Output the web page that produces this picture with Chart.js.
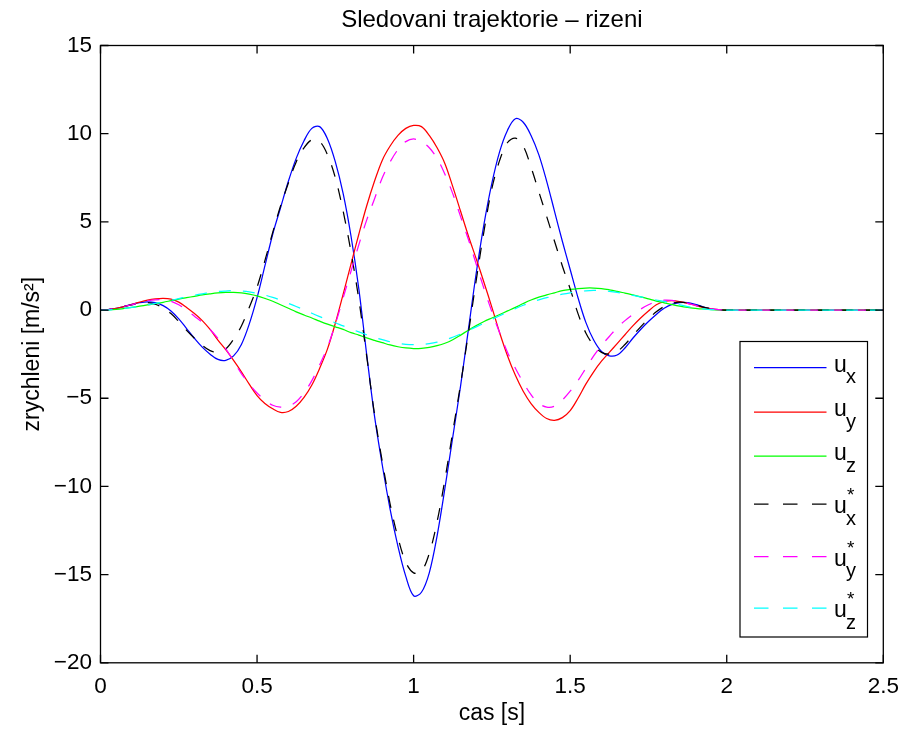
<!DOCTYPE html>
<html>
<head>
<meta charset="utf-8">
<script src="https://cdn.jsdelivr.net/npm/chart.js@4.4.1/dist/chart.umd.min.js"></script>
<style>
  html, body { margin: 0; padding: 0; background: #fff; }
  #c { display: block; }
</style>
</head>
<body>
<canvas id="c" width="904" height="731"></canvas>
<script>
// ---- data ----
const times = [0, 0.025, 0.05, 0.075, 0.1, 0.125, 0.15, 0.175, 0.2, 0.225,
  0.25, 0.275, 0.3, 0.325, 0.35, 0.375, 0.4, 0.425, 0.45, 0.475,
  0.5, 0.525, 0.55, 0.575, 0.6, 0.625, 0.65, 0.675, 0.7, 0.725,
  0.75, 0.775, 0.8, 0.825, 0.85, 0.875, 0.9, 0.925, 0.95, 0.975,
  1.0, 1.025, 1.05, 1.075, 1.1, 1.125, 1.15, 1.175, 1.2, 1.225,
  1.25, 1.275, 1.3, 1.325, 1.35, 1.375, 1.4, 1.425, 1.45, 1.475,
  1.5, 1.525, 1.55, 1.575, 1.6, 1.625, 1.65, 1.675, 1.7, 1.725,
  1.75, 1.775, 1.8, 1.825, 1.85, 1.875, 1.9, 1.925, 1.95, 1.975,
  2.0, 2.5];

const ux = [0, 0.03, 0.1, 0.2, 0.32, 0.42, 0.47, 0.42, 0.25, -0.05,
  -0.5, -1.05, -1.6, -2.1, -2.5, -2.8, -2.85, -2.6, -1.95, -0.8,
  0.7, 2.5, 4.3, 5.8, 7.3, 8.6, 9.6, 10.3, 10.4, 9.7,
  8.4, 6.6, 4.2, 1.2, -2.5, -6.0, -8.8, -11.3, -13.4, -15.1,
  -16.2, -16.0, -14.9, -12.8, -10.1, -7.2, -4.3, -1.1, 2.1, 4.9,
  7.2, 9.0, 10.2, 10.85, 10.65, 9.9, 8.8, 7.3, 5.6, 3.9,
  2.3, 0.7, -0.7, -1.7, -2.35, -2.6, -2.55, -2.15, -1.6, -1.1,
  -0.65, -0.25, 0.1, 0.32, 0.42, 0.42, 0.32, 0.18, 0.07, 0.02,
  0, 0];

const uy = [0, 0.03, 0.1, 0.2, 0.32, 0.45, 0.56, 0.63, 0.66, 0.62,
  0.45, 0.15, -0.2, -0.6, -1.1, -1.7, -2.25, -2.85, -3.5, -4.2,
  -4.85, -5.3, -5.6, -5.8, -5.75, -5.45, -4.95, -4.25, -3.3, -2.2,
  -0.75, 0.9, 2.6, 4.3, 5.9, 7.3, 8.5, 9.3, 9.9, 10.3,
  10.47, 10.4, 9.9, 9.2, 8.3, 7.0, 5.6, 4.2, 2.9, 1.55,
  0.15, -1.3, -2.6, -3.7, -4.6, -5.3, -5.8, -6.15, -6.25, -6.1,
  -5.7, -5.0, -4.2, -3.5, -2.9, -2.4, -1.9, -1.4, -0.9, -0.45,
  -0.05, 0.3, 0.48, 0.53, 0.48, 0.38, 0.26, 0.15, 0.07, 0.02,
  0, 0];

const uz = [0, 0.01, 0.04, 0.09, 0.15, 0.22, 0.29, 0.36, 0.44, 0.53,
  0.62, 0.7, 0.78, 0.86, 0.92, 0.97, 1.0, 1.0, 0.97, 0.9,
  0.8, 0.66, 0.5, 0.3, 0.1, -0.1, -0.28, -0.45, -0.63, -0.8,
  -0.95, -1.1, -1.28, -1.42, -1.58, -1.72, -1.85, -1.98, -2.08, -2.15,
  -2.18, -2.17, -2.12, -2.02, -1.88, -1.68, -1.42, -1.14, -0.88, -0.65,
  -0.45, -0.25, -0.05, 0.15, 0.37, 0.57, 0.73, 0.86, 0.98, 1.1,
  1.17, 1.22, 1.25, 1.25, 1.22, 1.15, 1.06, 0.96, 0.86, 0.75,
  0.63, 0.51, 0.41, 0.31, 0.22, 0.15, 0.1, 0.06, 0.03, 0.01,
  0, 0];

const uxRef = [0, 0.03, 0.1, 0.2, 0.3, 0.4, 0.42, 0.33, 0.12, -0.2,
  -0.65, -1.15, -1.6, -2.0, -2.3, -2.4, -2.2, -1.65, -0.9, 0.15,
  1.3, 2.8, 4.4, 5.9, 7.2, 8.4, 9.2, 9.65, 9.55, 8.8,
  7.5, 5.6, 3.3, 0.6, -2.6, -5.9, -8.6, -11.0, -12.9, -14.3,
  -14.9, -14.8, -13.8, -12.0, -9.6, -6.9, -4.2, -1.3, 1.7, 4.5,
  6.9, 8.5, 9.5, 9.75, 9.3, 8.1, 6.7, 5.3, 3.9, 2.5,
  1.2, -0.2, -1.3, -2.0, -2.4, -2.5, -2.35, -1.95, -1.45, -0.95,
  -0.5, -0.1, 0.2, 0.38, 0.45, 0.4, 0.3, 0.17, 0.07, 0.02,
  0, 0];

const uyRef = [0, 0.03, 0.1, 0.2, 0.3, 0.42, 0.52, 0.58, 0.58, 0.5,
  0.3, 0.0, -0.35, -0.7, -1.1, -1.6, -2.2, -2.9, -3.6, -4.2,
  -4.7, -5.1, -5.4, -5.5, -5.45, -5.2, -4.7, -4.0, -3.1, -2.1,
  -0.8, 0.7, 2.2, 3.7, 5.1, 6.3, 7.5, 8.4, 9.1, 9.55,
  9.7, 9.55, 9.2, 8.6, 7.7, 6.6, 5.3, 4.0, 2.6, 1.2,
  -0.1, -1.3, -2.4, -3.3, -4.1, -4.8, -5.3, -5.5, -5.45, -5.1,
  -4.6, -4.0, -3.3, -2.6, -2.0, -1.5, -1.0, -0.6, -0.25, 0.05,
  0.3, 0.48, 0.56, 0.55, 0.48, 0.38, 0.26, 0.15, 0.07, 0.02,
  0, 0];

const uzRef = [0, 0.01, 0.04, 0.09, 0.15, 0.22, 0.3, 0.38, 0.46, 0.55,
  0.65, 0.75, 0.84, 0.92, 0.99, 1.05, 1.08, 1.1, 1.08, 1.03,
  0.95, 0.85, 0.72, 0.56, 0.38, 0.2, 0.02, -0.18, -0.37, -0.55,
  -0.72, -0.9, -1.07, -1.24, -1.4, -1.55, -1.68, -1.8, -1.88, -1.94,
  -1.96, -1.95, -1.9, -1.82, -1.7, -1.54, -1.36, -1.16, -0.95, -0.74,
  -0.53, -0.32, -0.12, 0.08, 0.27, 0.44, 0.58, 0.7, 0.8, 0.9,
  0.98, 1.04, 1.09, 1.11, 1.1, 1.06, 1.0, 0.92, 0.83, 0.75,
  0.66, 0.57, 0.49, 0.39, 0.29, 0.2, 0.12, 0.07, 0.03, 0.01,
  0, 0];

const xTicks = [0, 0.5, 1, 1.5, 2, 2.5];
const yTicks = [-20, -15, -10, -5, 0, 5, 10, 15];

const seriesNames = ['u_x', 'u_y', 'u_z', 'u_x*', 'u_y*', 'u_z*'];
const legendSub = ['x', 'y', 'z', 'x', 'y', 'z'];
const legendStar = [false, false, false, true, true, true];
const seriesValues = [ux, uy, uz, uxRef, uyRef, uzRef];
const seriesColors = ['#0000ff', '#ff0000', '#00ff00', '#000000', '#ff00ff', '#00ffff'];
const seriesDashed = [false, false, false, true, true, true];

const titleText = 'Sledovani trajektorie \u2013 rizeni';
const xTitle = 'cas [s]';
const yTitle = 'zrychleni [m/s\u00B2]';

// ---- chart ----
const FONT = "'Liberation Sans', Arial, Helvetica, sans-serif";

const datasets = seriesValues.map((vals, i) => ({
  label: seriesNames[i],
  data: times.map((t, k) => ({ x: t, y: vals[k] })),
  borderColor: seriesColors[i],
  backgroundColor: seriesColors[i],
  borderWidth: 1.25,
  borderDash: seriesDashed[i] ? [12, 12] : [],
  pointRadius: 0,
  fill: false,
  tension: 0.35,
  order: 5 - i
}));

const matlabPlugin = {
  id: 'matlabBox',
  afterDatasetsDraw(chart) {
    const { ctx, chartArea: a, scales } = chart;
    const x = scales.x, y = scales.y;
    ctx.save();
    ctx.strokeStyle = '#000';
    ctx.lineWidth = 1.3;
    ctx.setLineDash([]);
    ctx.strokeRect(a.left, a.top, a.right - a.left, a.bottom - a.top);
    ctx.beginPath();
    const TL = 8;
    x.ticks.forEach(t => {
      const px = x.getPixelForValue(t.value);
      ctx.moveTo(px, a.bottom); ctx.lineTo(px, a.bottom - TL);
      ctx.moveTo(px, a.top); ctx.lineTo(px, a.top + TL);
    });
    y.ticks.forEach(t => {
      const py = y.getPixelForValue(t.value);
      ctx.moveTo(a.left, py); ctx.lineTo(a.left + TL, py);
      ctx.moveTo(a.right, py); ctx.lineTo(a.right - TL, py);
    });
    ctx.stroke();

    // legend box (MATLAB style, inside the axes)
    const L = { left: 740, top: 341.5, right: 867.5, bottom: 637 };
    const rowY = [367.7, 412, 456, 504, 556.7, 608];
    ctx.fillStyle = '#fff';
    ctx.fillRect(L.left, L.top, L.right - L.left, L.bottom - L.top);
    ctx.lineWidth = 1.2;
    ctx.strokeRect(L.left, L.top, L.right - L.left, L.bottom - L.top);
    for (let i = 0; i < seriesNames.length; i++) {
      const ly = rowY[i];
      ctx.beginPath();
      ctx.strokeStyle = seriesColors[i];
      ctx.lineWidth = 1.25;
      ctx.setLineDash(seriesDashed[i] ? [14.5, 14.5] : []);
      ctx.moveTo(754, ly); ctx.lineTo(826.5, ly);
      ctx.stroke();
      ctx.setLineDash([]);
      ctx.fillStyle = '#000';
      ctx.textAlign = 'left';
      ctx.textBaseline = 'alphabetic';
      const star = legendStar[i];
      const base = star ? ly + 9 : ly + 4;
      ctx.font = '23px ' + FONT;
      ctx.fillText('u', 834, base);
      ctx.font = '20px ' + FONT;
      ctx.fillText(legendSub[i], 846, base + 11.5);
      if (star) {
        ctx.font = '19px ' + FONT;
        ctx.fillText('*', 847, ly - 3);
      }
    }
    ctx.restore();
  }
};

new Chart(document.getElementById('c'), {
  type: 'line',
  data: { datasets },
  options: {
    responsive: false,
    animation: false,
    devicePixelRatio: 1,
    layout: { padding: { left: 0, right: 20.7, top: 0, bottom: 0 } },
    plugins: {
      legend: { display: false },
      tooltip: { enabled: false },
      title: {
        display: true,
        text: titleText,
        fullSize: false,
        color: '#000',
        font: { family: FONT, size: 24, weight: 'normal' },
        padding: { top: 6, bottom: 10.7 }
      }
    },
    scales: {
      x: {
        type: 'linear',
        min: 0, max: 2.5,
        afterBuildTicks: s => { s.ticks = xTicks.map(v => ({ value: v })); },
        ticks: {
          color: '#000',
          font: { family: FONT, size: 22.5 },
          padding: 10,
          maxRotation: 0,
          autoSkip: false,
          callback: v => String(v)
        },
        grid: { display: false, drawTicks: false },
        border: { display: false },
        title: {
          display: true, text: xTitle, color: '#000',
          font: { family: FONT, size: 23 },
          padding: { top: 0, bottom: 3.2 }
        },
        afterFit: s => { s.height = 68.2; s.paddingLeft = 0; s.paddingRight = 0; }
      },
      y: {
        type: 'linear',
        min: -20, max: 15,
        afterBuildTicks: s => { s.ticks = yTicks.map(v => ({ value: v })); },
        ticks: {
          color: '#000',
          font: { family: FONT, size: 22.5 },
          padding: 8.5,
          autoSkip: false,
          callback: v => (v < 0 ? '\u2212' + Math.abs(v) : String(v))
        },
        grid: { display: false, drawTicks: false },
        border: { display: false },
        title: {
          display: true, text: yTitle, color: '#000',
          font: { family: FONT, size: 23 },
          padding: { top: 19.2, bottom: 0 }
        },
        afterFit: s => { s.width = 100.5; s.paddingTop = 0; s.paddingBottom = 0; }
      }
    }
  },
  plugins: [matlabPlugin]
});
</script>
</body>
</html>
